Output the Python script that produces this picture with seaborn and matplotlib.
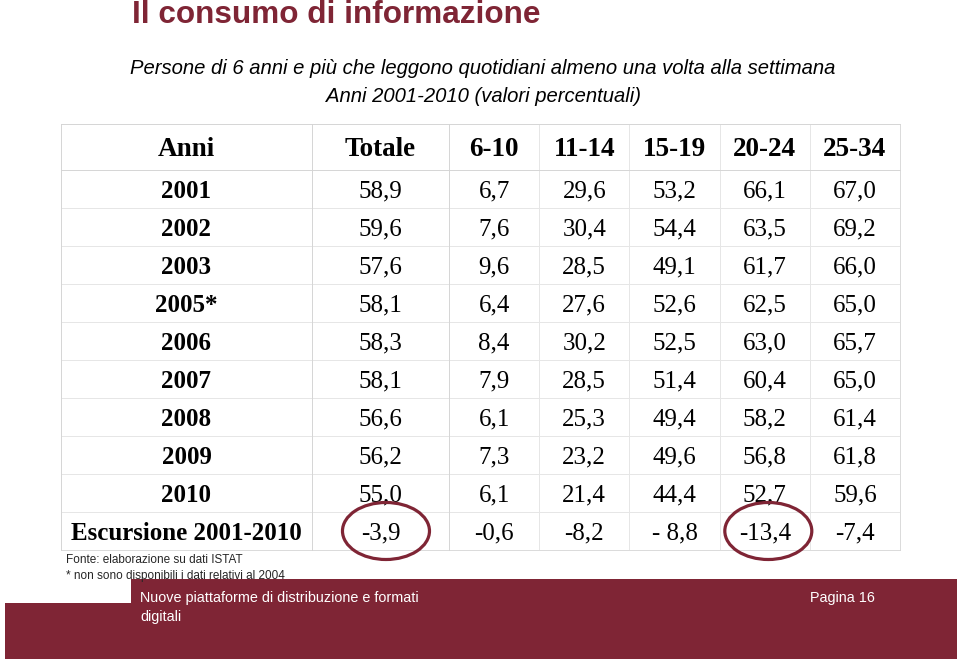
import matplotlib
matplotlib.use('Agg')
import matplotlib.pyplot as plt
import seaborn as sns
import numpy as np
import pandas as pd
from matplotlib.colors import ListedColormap
from matplotlib.patches import Ellipse, Rectangle

# dati (valori percentuali)
anni = ['2001', '2002', '2003', '2005*', '2006', '2007', '2008', '2009', '2010']
riga_escursione = 'Escursione 2001-2010'
colonne = ['Totale', '6-10', '11-14', '15-19', '20-24', '25-34']

totale = [58.9, 59.6, 57.6, 58.1, 58.3, 58.1, 56.6, 56.2, 55.0]
eta_6_10 = [6.7, 7.6, 9.6, 6.4, 8.4, 7.9, 6.1, 7.3, 6.1]
eta_11_14 = [29.6, 30.4, 28.5, 27.6, 30.2, 28.5, 25.3, 23.2, 21.4]
eta_15_19 = [53.2, 54.4, 49.1, 52.6, 52.5, 51.4, 49.4, 49.6, 44.4]
eta_20_24 = [66.1, 63.5, 61.7, 62.5, 63.0, 60.4, 58.2, 56.8, 52.7]
eta_25_34 = [67.0, 69.2, 66.0, 65.0, 65.7, 65.0, 61.4, 61.8, 59.6]
escursione = ['-3,9', '-0,6', '-8,2', '- 8,8', '-13,4', '-7,4']

# celle cerchiate nella riga "Escursione"
evidenziate = ['Totale', '20-24']

ROSSO = '#7f2535'
GRIGIO = '#e6e6e6'
W, H = 960, 661

sns.set_theme(style='white')
plt.rcParams['font.family'] = ['Liberation Sans', 'DejaVu Sans']


def fx(px):
    return px / W


def fy(py):
    return 1 - py / H


def fmt(v):
    return f'{v:.1f}'.replace('.', ',')


serie = [totale, eta_6_10, eta_11_14, eta_15_19, eta_20_24, eta_25_34]
df = pd.DataFrame({c: [fmt(v) for v in s] for c, s in zip(colonne, serie)}, index=anni)
df.loc[riga_escursione] = escursione

fig = plt.figure(figsize=(W / 100, H / 100), dpi=100)

# bordi tabella in pixel
xs = [61, 312, 449, 900]
ys = [124, 170, 550]
gruppi = [['Anni'], ['Totale'], colonne[1:]]

bianco = ListedColormap(['white'])
font_tab = 'Liberation Serif'

for j, gruppo in enumerate(gruppi):
    for i in range(2):
        alto = ys[i + 1] - ys[i]
        ax = fig.add_axes([fx(xs[j]), fy(ys[i + 1]), fx(xs[j + 1] - xs[j]), alto / H])
        if i == 0:
            testo = np.array([gruppo])
        elif gruppo == ['Anni']:
            testo = np.array([[r] for r in df.index])
        else:
            testo = df[gruppo].values
        bold = (i == 0) or (j == 0)
        sns.heatmap(np.zeros(testo.shape), ax=ax, cmap=bianco, vmin=0, vmax=1, cbar=False,
                    annot=testo, fmt='', linewidths=0.6, linecolor=GRIGIO,
                    xticklabels=False, yticklabels=False,
                    annot_kws={'fontsize': 19.5 if i == 0 else 18, 'family': font_tab, 'color': 'black',
                               'weight': 'bold' if bold else 'normal'})
        # piccolo spostamento verso il basso del testo (2 px)
        passo = 2 / (alto / testo.shape[0])
        for t in ax.texts:
            t.set_y(t.get_position()[1] + passo)
        for s in ax.spines.values():
            s.set_visible(True)
            s.set_color('#d4d4d4')
            s.set_linewidth(0.6)

        # ellissi attorno ai valori di escursione
        if i == 1:
            for c in evidenziate:
                if c in gruppo:
                    k = gruppo.index(c)
                    larg = 87 / ((xs[j + 1] - xs[j]) / len(gruppo))
                    ax.add_patch(Ellipse((k + 0.54, testo.shape[0] - 0.5), larg, 1.5,
                                         fill=False, edgecolor=ROSSO, lw=2.3, clip_on=False, zorder=5))

# titolo e sottotitolo
fig.text(fx(132), fy(23), 'Il consumo di informazione', fontsize=22.7, fontweight='bold',
         color=ROSSO, ha='left', va='baseline')
fig.text(fx(483), fy(68), 'Persone di 6 anni e più che leggono quotidiani almeno una volta alla settimana',
         fontsize=14.6, style='italic', ha='center', va='center', color='black')
fig.text(fx(483), fy(96), 'Anni 2001-2010 (valori percentuali)',
         fontsize=14.6, style='italic', ha='center', va='center', color='black')

# note
fig.text(fx(66), fy(560), 'Fonte: elaborazione su dati ISTAT', fontsize=8.5, ha='left', va='center')
fig.text(fx(66), fy(576), '* non sono disponibili i dati relativi al 2004', fontsize=8.5, ha='left', va='center')

# banda a piè di pagina
fig.patches.append(Rectangle((fx(5), fy(659)), fx(952), 56 / H, transform=fig.transFigure,
                             facecolor=ROSSO, edgecolor='none', zorder=0))
fig.patches.append(Rectangle((fx(131), fy(604)), fx(826), 25 / H, transform=fig.transFigure,
                             facecolor=ROSSO, edgecolor='none', zorder=0))
fig.text(fx(140), fy(598), 'Nuove piattaforme di distribuzione e formati', fontsize=10.4,
         color='white', ha='left', va='center')
fig.text(fx(140), fy(617), 'digitali', fontsize=10.4, color='white', ha='left', va='center')
fig.text(fx(875), fy(598), 'Pagina 16', fontsize=10.4, color='white', ha='right', va='center')

fig.savefig('out.png', dpi=100, facecolor='white')
